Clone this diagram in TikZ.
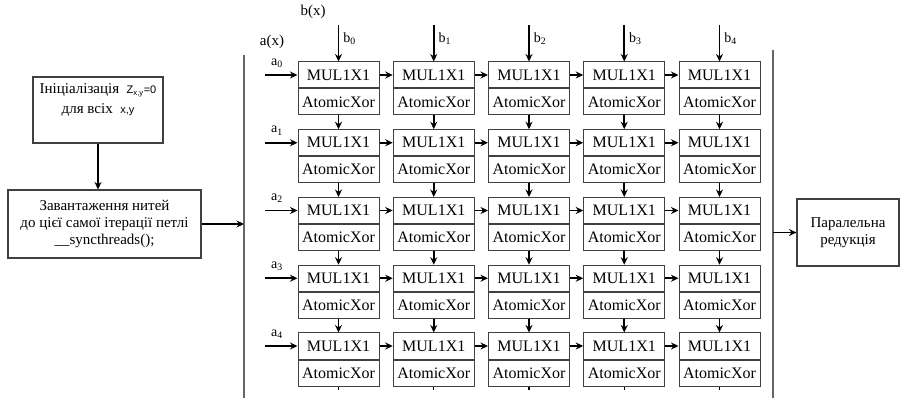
\documentclass[tikz,border=0pt]{standalone}
\usepackage{fontspec}
\setmainfont{Liberation Serif}
\newfontfamily\arialf{Liberation Sans}
\usetikzlibrary{arrows.meta}
\begin{document}
\begin{tikzpicture}[x=1pt,y=-1pt,
  cellpart/.style={draw=black!75, line width=1pt, minimum width=81pt, minimum height=26pt,
    inner sep=0pt, font=\fontsize{16}{18}\selectfont},
  flow/.style={-{Stealth[length=7.5pt,width=7pt]}, line width=1.6pt},
  tick/.style={line width=1.4pt},
  sidebox/.style={draw=black!75, line width=1.1pt, align=center, inner sep=0pt,
    font=\fontsize{15}{17}\selectfont},
  rail/.style={draw=black!60, line width=1.4pt},
  lab/.style={inner sep=0pt, font=\fontsize{15}{17}\selectfont},
  small/.style={inner sep=0pt, font=\fontsize{14}{16}\selectfont}]
\useasboundingbox (0,0) rectangle (903,398);

% left-hand control boxes
\node[sidebox, minimum width=130pt, minimum height=66pt] (init) at (98,110)
  {Ініціалізація\ \ {\arialf\fontsize{11}{13}\selectfont Z\textsubscript{x,y}=0}\\[3pt]
   для всіх\ \ {\arialf\fontsize{11}{13}\selectfont x,y}\\[6pt]};
\node[sidebox, minimum width=193pt, minimum height=68pt] (load) at (104.5,224)
  {Завантаження нитей\\до цієї самої ітерації петлі\\\_\_syncthreads();};
\draw[flow] (init.south) -- (init.south |- load.north);

% right-hand reduction box
\node[sidebox, minimum width=102pt, minimum height=67pt] (red) at (848,232.5)
  {Паралельна\\редукція};

% rails bounding the grid
\coordinate (railLtop) at (244,55);
\coordinate (railLbot) at (244,398);
\coordinate (railRtop) at (773,50);
\coordinate (railRbot) at (773,398);
\draw[rail] (railLtop) -- (railLbot);
\draw[rail] (railRtop) -- (railRbot);

\coordinate (joinL) at (244,224);
\coordinate (joinR) at (773,232.5);
\draw[flow] (load.east) -- (joinL);
\draw[flow] (joinR) -- (red.west);

% input polynomial labels
\node[lab] (bx) at (313,12) {b(x)};
\node[lab] (ax) at (272,42) {a(x)};

% grid of multiplier cells
\foreach \i in {0,...,4}{
  \foreach \j in {0,...,4}{
    \pgfmathsetmacro\cx{338.5+95.25*\j}
    \pgfmathsetmacro\ty{62+67.75*\i}
    \node[cellpart] (m\i\j) at (\cx,\ty+13) {MUL1X1};
    \node[cellpart, anchor=north] (x\i\j) at (m\i\j.south) {AtomicXor};
  }
}

% row inputs a_i
\foreach \i in {0,...,4}{
  \pgfmathsetmacro\ty{62+67.75*\i}
  \coordinate (ain\i) at (265,\ty+13);
  \draw[flow] (ain\i) -- (m\i0.west);
  \node[small] (al\i) at (277,\ty+1) {a\textsubscript{\i}};
}

% column inputs b_j
\foreach \j in {0,...,4}{
  \pgfmathsetmacro\cx{338.5+95.25*\j}
  \coordinate (bin\j) at (\cx,25);
  \draw[flow] (bin\j) -- (m0\j.north);
  \node[small] (bl\j) at (\cx+11,39) {b\textsubscript{\j}};
}

% links between neighbouring cells
\foreach \i in {0,...,4}{
  \foreach \j/\k in {0/1,1/2,2/3,3/4}{
    \draw[flow] (m\i\j.east) -- (m\i\k.west);
  }
}
\foreach \i/\n in {0/1,1/2,2/3,3/4}{
  \foreach \j in {0,...,4}{
    \draw[flow] (x\i\j.south) -- (m\n\j.north);
  }
}
\foreach \j in {0,...,4}{
  \draw[tick] (x4\j.south) -- ++(0,3);
}
\end{tikzpicture}
\end{document}
